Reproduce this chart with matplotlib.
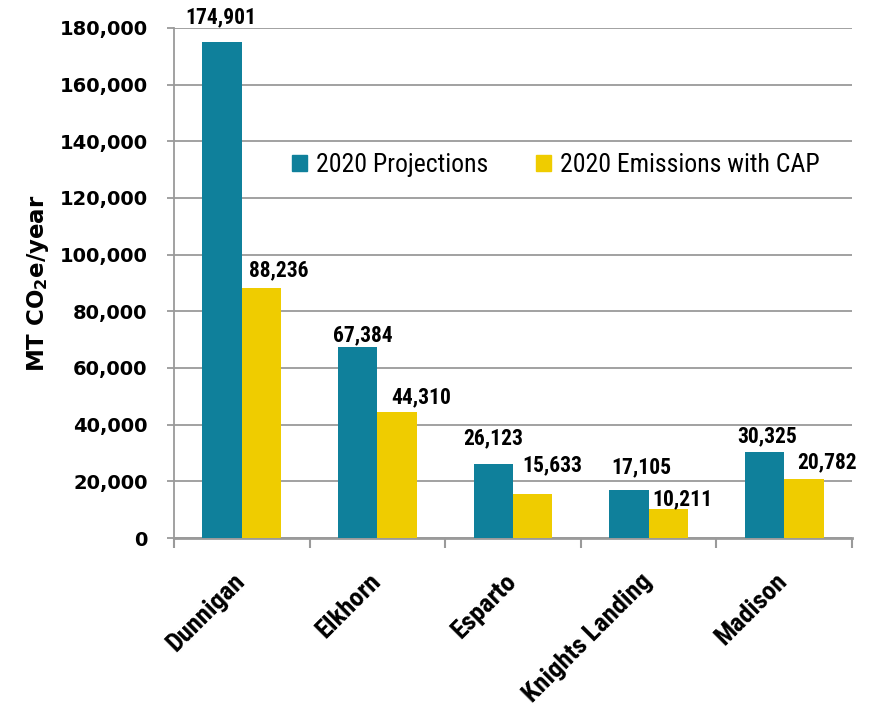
import matplotlib
matplotlib.use("Agg")
import matplotlib.pyplot as plt
import matplotlib.transforms as mtransforms
from matplotlib import font_manager
from matplotlib.patches import Patch
import numpy as np

towns = ["Dunnigan", "Elkhorn", "Esparto", "Knights Landing", "Madison"]
projections = [174901, 67384, 26123, 17105, 30325]
with_cap = [88236, 44310, 15633, 10211, 20782]
series_names = ["2020 Projections", "2020 Emissions with CAP"]
yticks = np.arange(0, 180001, 20000)

teal = "#0F809B"
yellow = "#EFCC00"
grid_grey = "#9A9A9A"

# label nudges in pixels (dx, dy from the bar top)
proj_nudge = [(-1, 25), (5, 12), (0, 26), (12, 22), (3, 16)]
cap_nudge = [(17, 18), (24, 15), (20, 28), (14, 10), (23, 17)]

installed = {f.name for f in font_manager.fontManager.ttflist}
narrow = next(n for n in ["Roboto Condensed", "Fira Sans Condensed", "Barlow Condensed",
                          "Archivo Narrow", "DejaVu Sans"] if n in installed)

plt.rcParams["font.family"] = ["DejaVu Sans"]
plt.rcParams["mathtext.fontset"] = "dejavusans"

fig = plt.figure(figsize=(8.75, 7.07), dpi=100)
ax = fig.add_axes([174 / 875, 1 - 538 / 707, 678 / 875, 510 / 707])

x = np.arange(len(towns))
w = 0.29
b1 = ax.bar(x - w / 2, projections, w, color=teal, zorder=3)
b2 = ax.bar(x + w / 2, with_cap, w, color=yellow, zorder=3)

for bars, vals, nudge in [(b1, projections, proj_nudge), (b2, with_cap, cap_nudge)]:
    for bar, v, (dx, dy) in zip(bars, vals, nudge):
        ax.annotate(f"{v:,}", (bar.get_x() + bar.get_width() / 2, v),
                    xytext=(dx, dy), textcoords="offset pixels",
                    ha="center", va="center", family=narrow, weight="bold",
                    fontsize=15.5, color="black", zorder=4)

ax.set_xlim(-0.5, len(towns) - 0.5)
ax.set_ylim(0, 180000)
ax.set_yticks(yticks)
ax.set_yticklabels([f"{v:,}" for v in yticks], fontsize=14, fontweight="bold")
ax.grid(axis="y", color=grid_grey, linewidth=1.3, zorder=0)
ax.tick_params(axis="y", length=5, width=1.3, color=grid_grey, pad=14)

# category labels sit on the centres, boundary ticks between groups
ax.set_xticks(x)
ax.set_xticklabels(towns, rotation=45, ha="right", va="top",
                   family=narrow, weight="bold", fontsize=19)
ax.set_xticks(np.arange(-0.5, len(towns)), minor=True)
ax.tick_params(axis="x", which="major", length=0, pad=0)
ax.tick_params(axis="x", which="minor", length=7, width=1.5, color=grid_grey)
shift = mtransforms.ScaledTranslation(8 / 100, -31 / 100, fig.dpi_scale_trans)
for lab in ax.get_xticklabels():
    lab.set_transform(lab.get_transform() + shift)

for side in ["top", "right"]:
    ax.spines[side].set_visible(False)
ax.spines["left"].set_color(grid_grey)
ax.spines["left"].set_linewidth(1.3)
ax.spines["bottom"].set_color(grid_grey)
ax.spines["bottom"].set_linewidth(2)

fig.text(38 / 875, 1 - 283 / 707, r"MT CO$\mathbf{_2}$e/year", rotation=90,
         ha="center", va="center", fontsize=16.5, fontweight="bold")

handles = [Patch(color=teal), Patch(color=yellow)]
ax.legend(handles, series_names, loc="center left", bbox_to_anchor=(0.174, 0.731),
          ncol=2, frameon=False, borderpad=0, borderaxespad=0,
          handlelength=0.58, handleheight=0.58, handletextpad=0.35, columnspacing=1.85,
          prop={"family": narrow, "size": 18.5})

fig.savefig("out.png", dpi=100)
